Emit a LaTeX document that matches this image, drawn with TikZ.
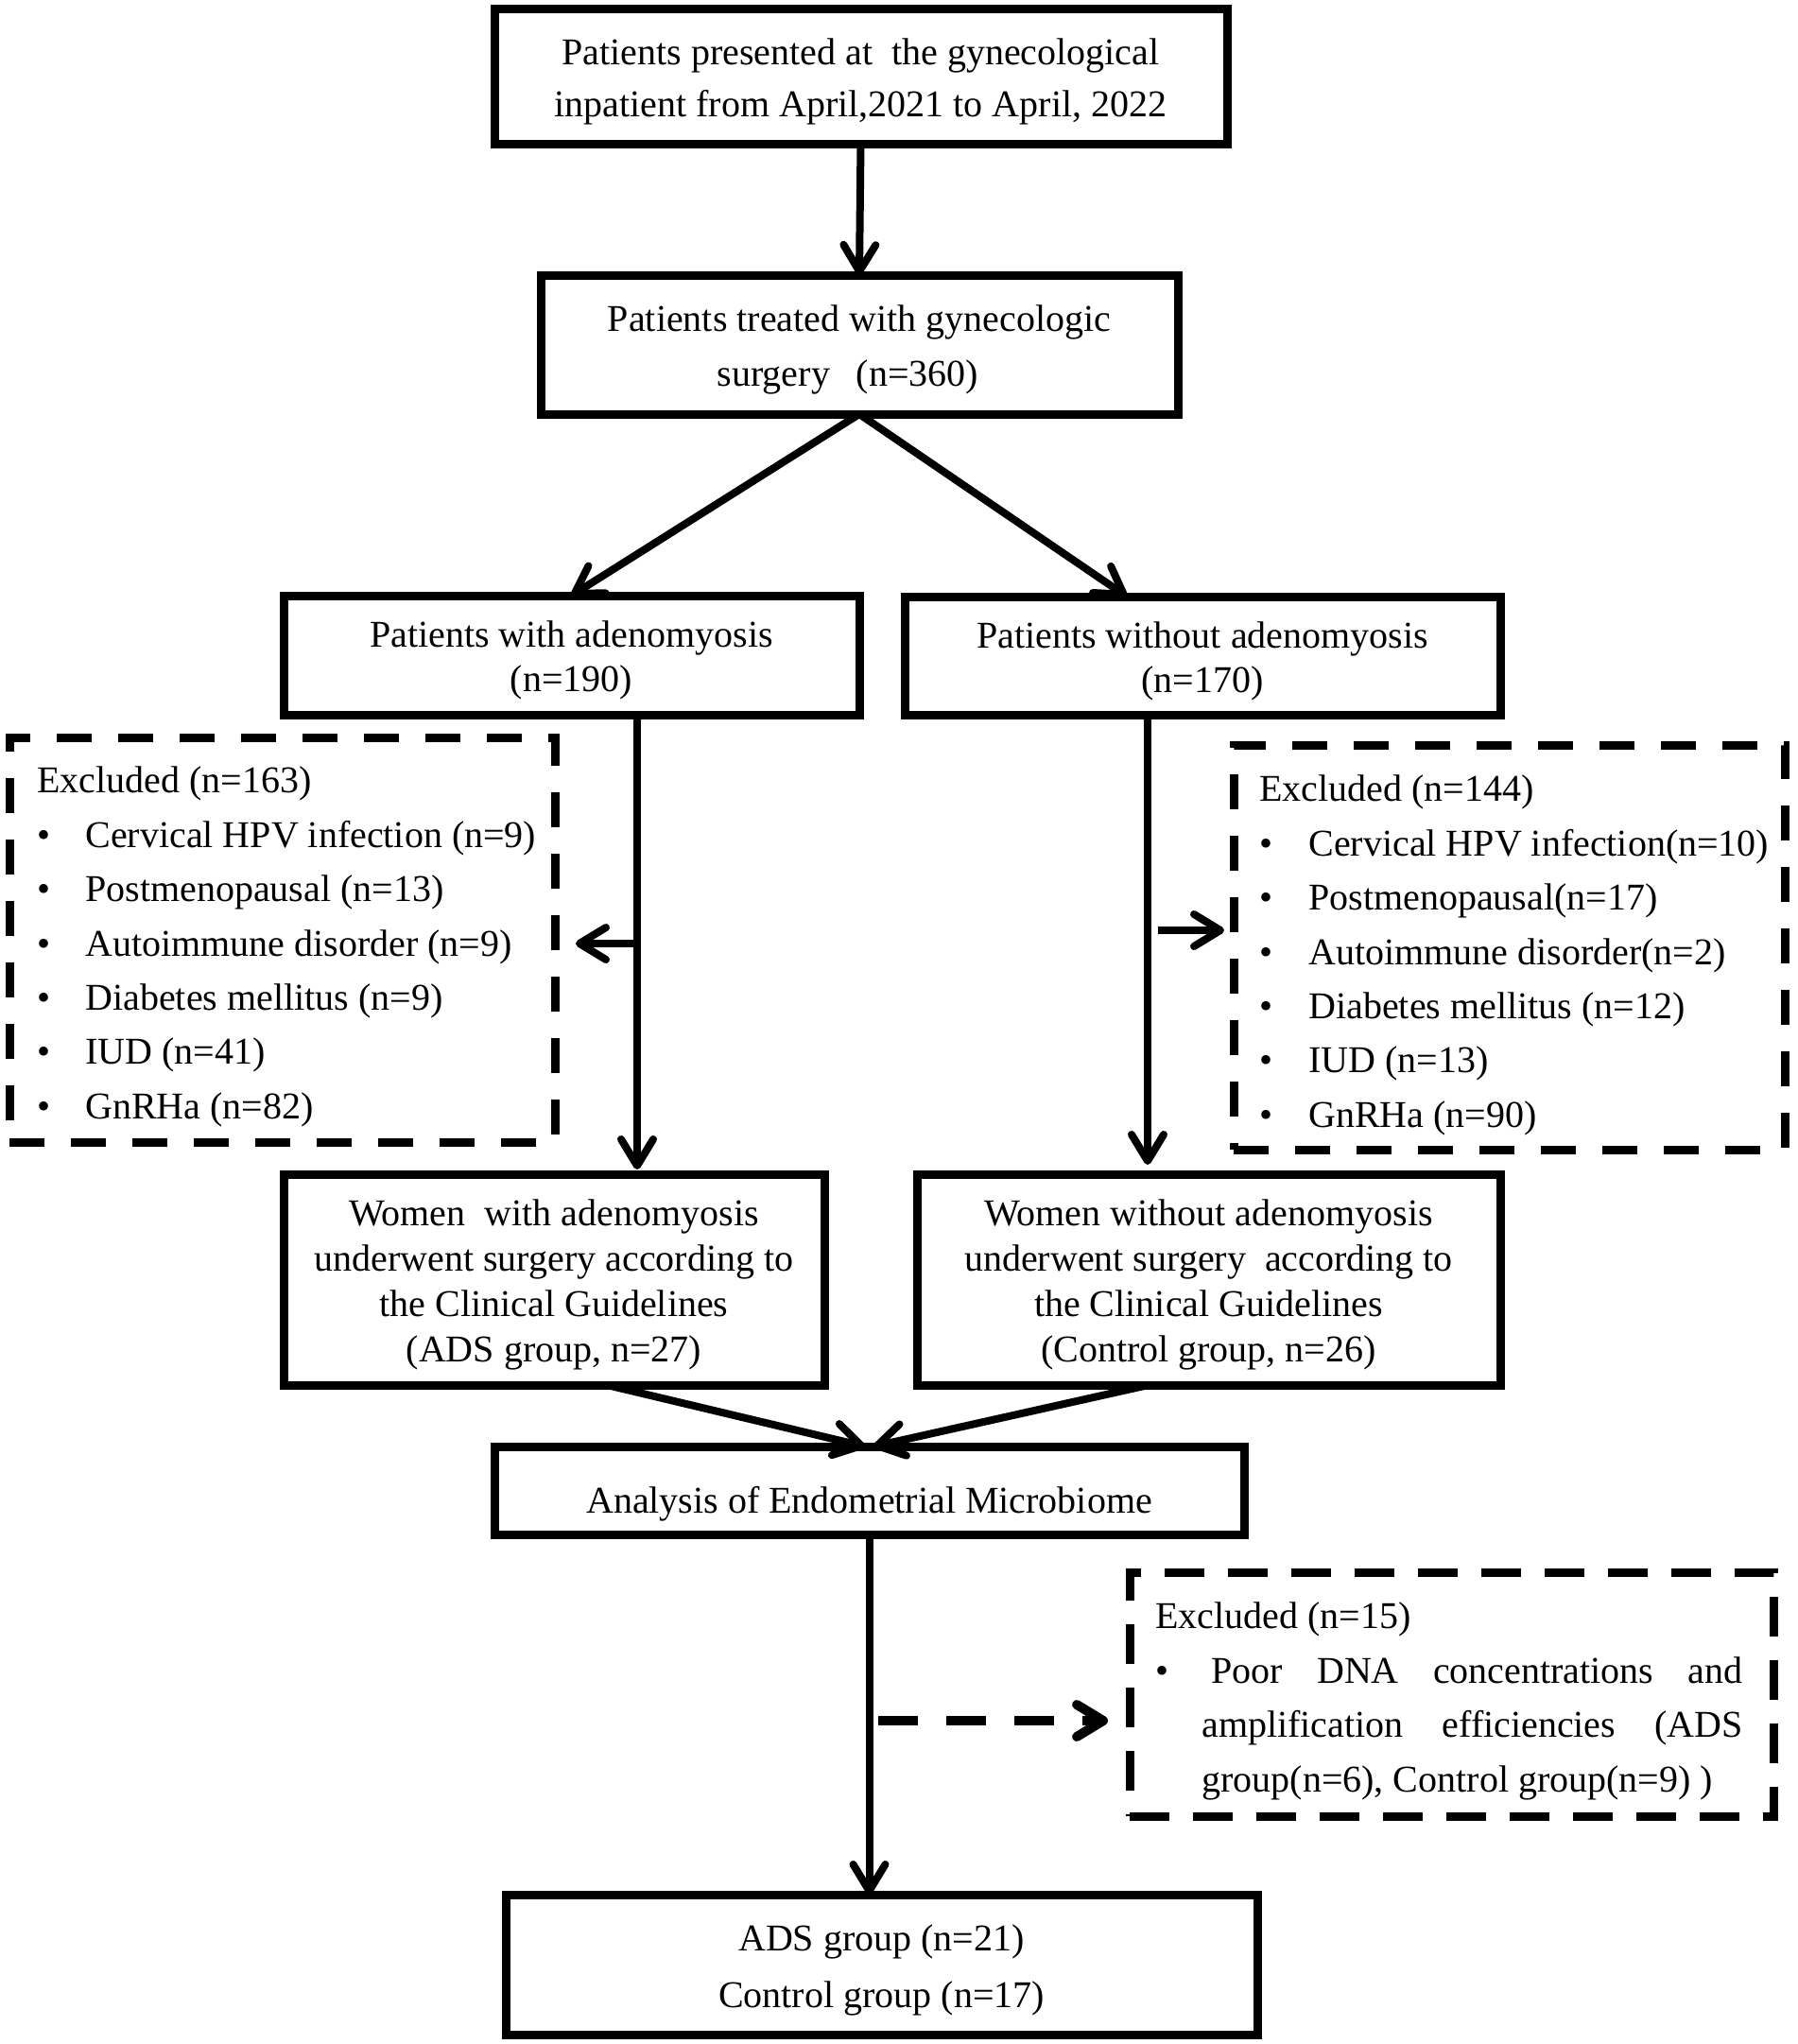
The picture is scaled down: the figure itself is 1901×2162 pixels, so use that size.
\documentclass[tikz,border=0pt]{standalone}
\usepackage{fontspec}
\setmainfont{Liberation Serif}
\usetikzlibrary{arrows.meta,calc}
\newcommand{\dn}{\rule{0pt}{19.3pt}}
\begin{document}
\begin{tikzpicture}[x=0.5pt,y=-0.5pt,
  box/.style={draw, line width=4.5pt, inner sep=0pt, outer sep=0pt, align=center},
  dbox/.style={draw, line width=4.5pt, dash pattern=on 18.5pt off 14pt, inner sep=0pt, outer sep=0pt},
  lst/.style={anchor=west, align=left, inner sep=0pt, font=\fontsize{20}{28.7}\selectfont},
  arr/.style={line width=4pt, -{Straight Barb[length=14pt,width=17pt,round]}},
  fs/.style={font=\fontsize{20}{#1}\selectfont}]
\useasboundingbox (0,0) rectangle (1901,2162);

% solid boxes
\node[box, fs=27.5, minimum width=387.5pt, minimum height=71pt] (top) at (910.5,81)
  {\dn Patients presented at~~the gynecological\\inpatient from April,2021 to April, 2022};
\node[box, fs=28.75, minimum width=337pt, minimum height=73.5pt] (box2) at (909,364.5)
  {\dn Patients treated with gynecologic\\surgery\hspace{0.7em}(n=360)\hspace*{0.6em}};
\node[box, fs=23.5, minimum width=304.5pt, minimum height=63pt] (box3L) at (604.5,693)
  {\dn Patients with adenomyosis\\(n=190)};
\node[box, fs=23.5, minimum width=315pt, minimum height=62.5pt] (box3R) at (1272,693.5)
  {\dn Patients without adenomyosis\\(n=170)};
\node[box, fs=24, minimum width=286pt, minimum height=111.5pt] (box4L) at (586,1353.5)
  {\dn Women~~with adenomyosis\\underwent surgery according to\\the Clinical Guidelines\\(ADS group, n=27)};
\node[box, fs=24, minimum width=308.5pt, minimum height=111.5pt] (box4R) at (1278.5,1353.5)
  {\dn Women without adenomyosis\\underwent surgery~~according to\\the Clinical Guidelines\\(Control group, n=26)};
\node[box, fs=24, minimum width=396.5pt, minimum height=46.5pt, text height=28pt, text depth=4.4pt] (box5) at (919.5,1576.5)
  {Analysis of Endometrial Microbiome};
\node[box, fs=30, minimum width=397.5pt, minimum height=74pt] (box6) at (932.5,2078)
  {\dn ADS group (n=21)\\Control group (n=17)};

% dashed boxes
\node[dbox, minimum width=288.5pt, minimum height=214pt] (exL) at (298.5,994) {};
\node[dbox, minimum width=291.5pt, minimum height=214pt] (exR) at (1596.5,1002) {};
\node[dbox, dash pattern=on 21pt off 12.5pt, minimum width=340.5pt, minimum height=129pt] (exB) at (1535.5,1792) {};

\node[lst] (exLt) at (39,1001.5) {Excluded (n=163)\\
  \makebox[25.5pt][l]{\textbullet}Cervical HPV infection (n=9)\\
  \makebox[25.5pt][l]{\textbullet}Postmenopausal (n=13)\\
  \makebox[25.5pt][l]{\textbullet}Autoimmune disorder (n=9)\\
  \makebox[25.5pt][l]{\textbullet}Diabetes mellitus (n=9)\\
  \makebox[25.5pt][l]{\textbullet}IUD (n=41)\\
  \makebox[25.5pt][l]{\textbullet}GnRHa (n=82)};
\node[lst] (exRt) at (1332,1010.5) {Excluded (n=144)\\
  \makebox[26pt][l]{\textbullet}Cervical HPV infection(n=10)\\
  \makebox[26pt][l]{\textbullet}Postmenopausal(n=17)\\
  \makebox[26pt][l]{\textbullet}Autoimmune disorder(n=2)\\
  \makebox[26pt][l]{\textbullet}Diabetes mellitus (n=12)\\
  \makebox[26pt][l]{\textbullet}IUD (n=13)\\
  \makebox[26pt][l]{\textbullet}GnRHa (n=90)};
\node[lst] (exBt) at (1222,1799.5) {Excluded (n=15)\\
  \makebox[29.5pt][l]{\textbullet}\makebox[281pt][s]{Poor DNA concentrations and}\\
  \hspace*{24.5pt}\makebox[286pt][s]{amplification efficiencies (ADS}\\
  \hspace*{24.5pt}group(n=6), Control group(n=9) )};

% connectors
\draw[arr] (top.south) -- (box2.north);
\draw[arr] (box2.south) -- (box3L.north);
\draw[arr] (box2.south) -- ($(box3R.north west)+(235,0)$);

\coordinate (vl) at (674,998);
\draw[arr] (box3L.south -| vl) -- ($(box4L.north -| vl)+(0,-5)$);
\draw[arr] (vl) -- ($(exL.east |- vl)+(22,0)$);

\coordinate (vr) at (1214,984);
\coordinate (vrb) at (1225,984);
\draw[arr] (box3R.south -| vr) -- ($(box4R.north -| vr)+(0,-10)$);
\draw[arr] (vrb) -- ($(exR.west |- vrb)+(-10,0)$);

\draw[arr] ($(box4L.south)+(56,0)$) -- ($(box5.north)+(-4.5,0)$);
\draw[arr] ($(box4R.south)+(-63.5,0)$) -- ($(box5.north)+(4.5,0)$);

\draw[arr] (box5.south) -- (box5.south |- box6.north);

\coordinate (da) at (929,1820);
\draw[arr, line width=5pt, dash pattern=on 21pt off 15pt] (da) -- ($(exB.west |- da)+(-23,0)$);
\end{tikzpicture}
\end{document}
